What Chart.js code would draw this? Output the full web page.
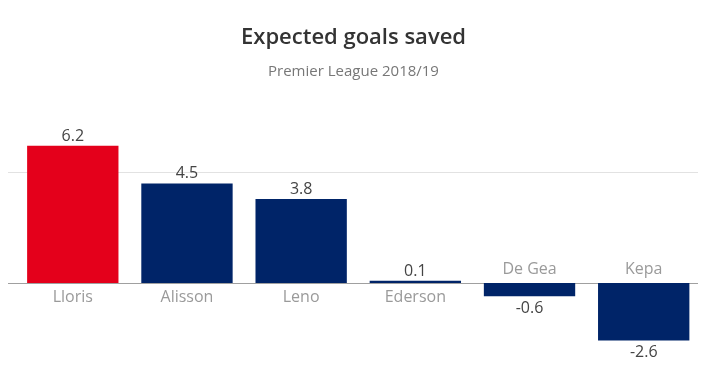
<!DOCTYPE html>
<html>
<head>
<meta charset="utf-8">
<script src="https://cdn.jsdelivr.net/npm/chart.js@4"></script>
<style>
  html, body { margin: 0; padding: 0; background: #fff; }
  #wrap { position: relative; width: 707px; height: 381px; }
  #title { position: absolute; left: 0; width: 707px; top: 20px; text-align: center;
           font-family: "Open Sans", sans-serif; font-weight: 600; font-size: 22px; color: #333; line-height: 30px; }
  #sub { position: absolute; left: 0; width: 707px; top: 60px; text-align: center;
         font-family: "Open Sans", sans-serif; font-size: 15px; color: #777; }
  canvas { position: absolute; left: 0; top: 0; }
</style>
</head>
<body>
<div id="wrap">
  <canvas id="c" width="707" height="381"></canvas>
  <div id="title">Expected goals saved</div>
  <div id="sub">Premier League 2018/19</div>
</div>
<script>
const categories = ["Lloris", "Alisson", "Leno", "Ederson", "De Gea", "Kepa"];
const values = [6.2, 4.5, 3.8, 0.1, -0.6, -2.6];
const barColors = ["#e4001b", "#002468", "#002468", "#002468", "#002468", "#002468"];
const gridValues = [0, 5];

const FONT = '"Open Sans", sans-serif';

const customDraw = {
  id: 'customDraw',
  beforeDatasetsDraw(chart) {
    const ctx = chart.ctx;
    const y = chart.scales.y;
    ctx.save();
    gridValues.forEach(v => {
      const py = Math.round(y.getPixelForValue(v)) + 0.5;
      ctx.strokeStyle = v === 0 ? '#a0a0a0' : '#e2e2e2';
      ctx.lineWidth = 1;
      ctx.beginPath();
      ctx.moveTo(8, py);
      ctx.lineTo(698, py);
      ctx.stroke();
    });
    ctx.restore();
  },
  afterDatasetsDraw(chart) {
    const ctx = chart.ctx;
    const meta = chart.getDatasetMeta(0);
    const zero = chart.scales.y.getPixelForValue(0);
    ctx.save();
    ctx.textAlign = 'center';
    meta.data.forEach((bar, i) => {
      const v = values[i];
      ctx.font = '16px ' + FONT;
      if (v >= 0) {
        ctx.fillStyle = '#444';
        ctx.textBaseline = 'alphabetic';
        ctx.fillText(v.toFixed(1), bar.x, bar.y - 5);
        ctx.fillStyle = '#9a9a9a';
        ctx.textBaseline = 'top';
        ctx.fillText(categories[i], bar.x, zero + 6);
      } else {
        ctx.fillStyle = '#444';
        ctx.textBaseline = 'top';
        ctx.fillText(v.toFixed(1), bar.x, bar.y + 4);
        ctx.fillStyle = '#9a9a9a';
        ctx.textBaseline = 'alphabetic';
        ctx.fillText(categories[i], bar.x, zero - 9);
      }
    });
    ctx.restore();
  }
};

new Chart(document.getElementById('c'), {
  type: 'bar',
  data: {
    labels: categories,
    datasets: [{
      data: values,
      backgroundColor: barColors,
      borderWidth: 0,
      categoryPercentage: 1.0,
      barPercentage: 0.8
    }]
  },
  options: {
    responsive: false,
    animation: false,
    layout: { padding: { left: 15.7, right: 6.2, top: 117, bottom: 20.5 } },
    plugins: { legend: { display: false }, tooltip: { enabled: false }, title: { display: false } },
    scales: {
      x: { display: false },
      y: { display: false, min: -3.5, max: 7.5 }
    }
  },
  plugins: [customDraw]
});
</script>
</body>
</html>
